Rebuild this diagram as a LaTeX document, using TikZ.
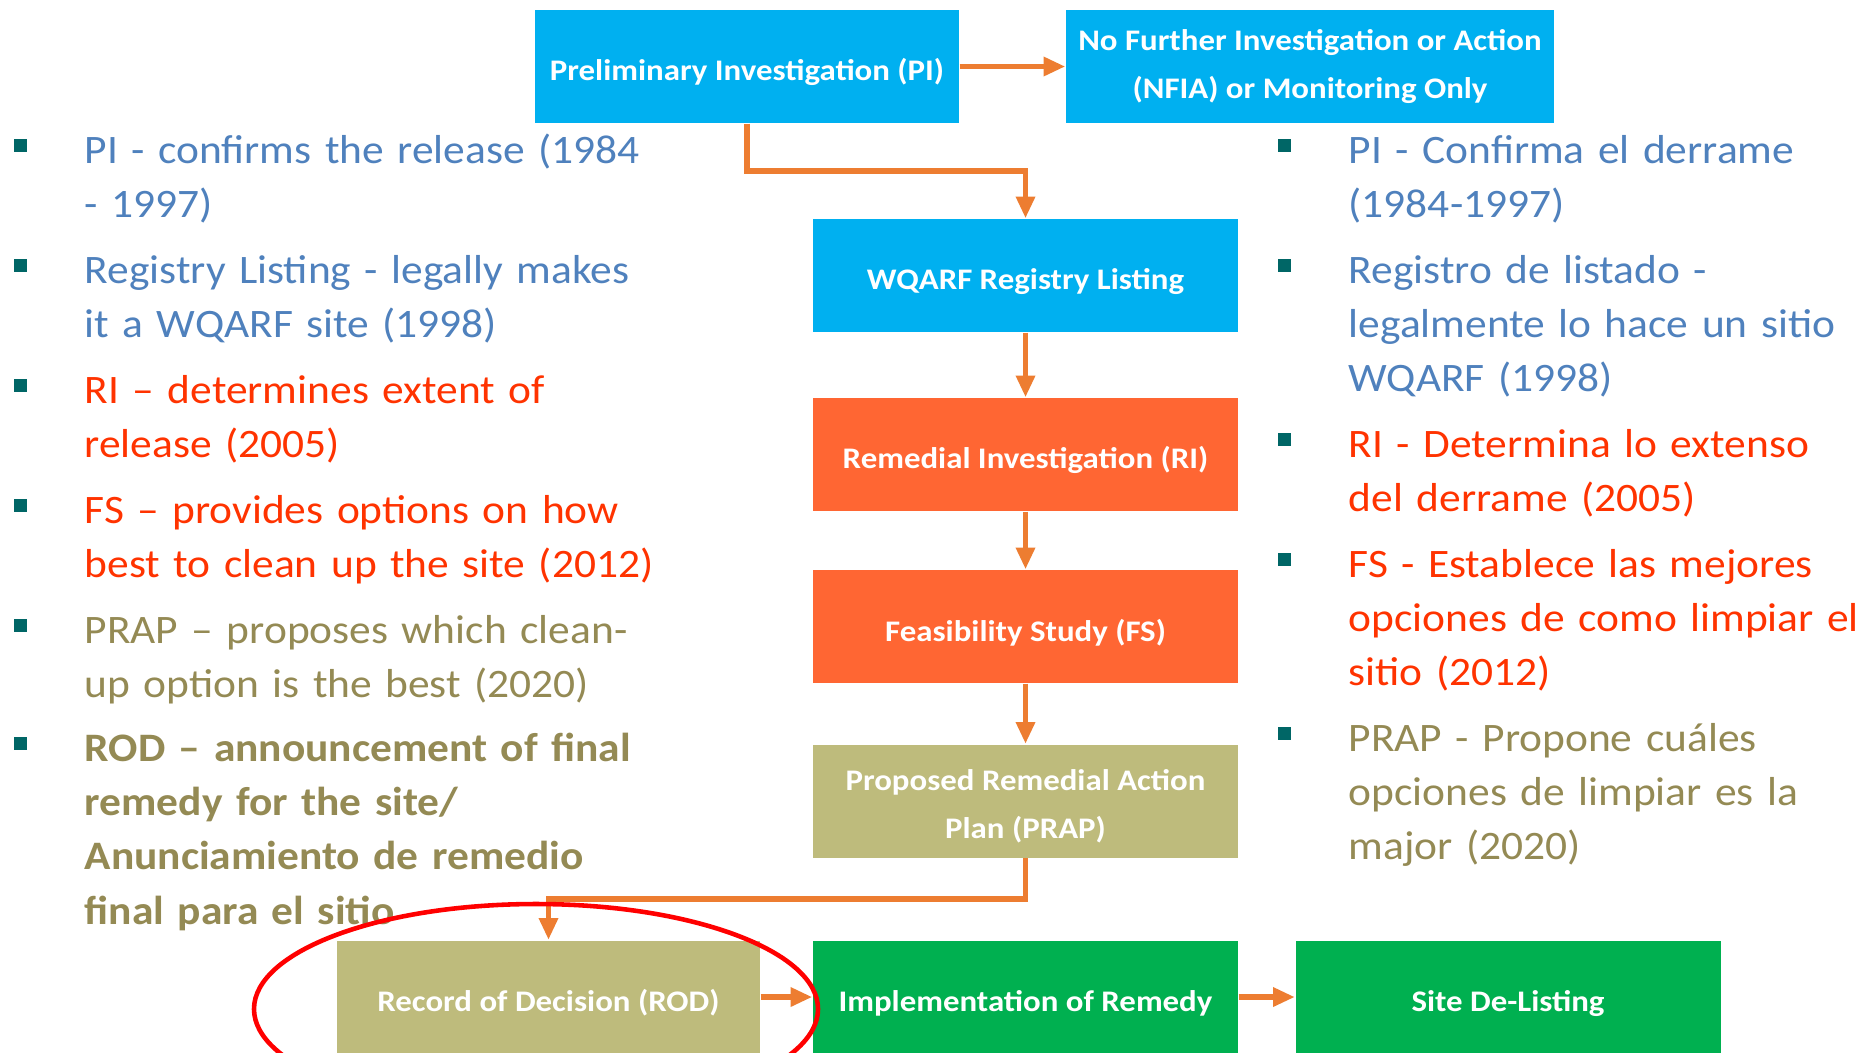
\documentclass[tikz,border=0pt]{standalone}
\usepackage{fontspec}
\setmainfont{Carlito}[FakeStretch=1.075]
\newfontfamily\stagefont{Carlito}[FakeStretch=1.1]
\usepackage{tikz}
\usetikzlibrary{arrows.meta,calc}
\definecolor{boxblue}{RGB}{0,176,240}
\definecolor{boxred}{RGB}{255,102,51}
\definecolor{boxolive}{RGB}{190,187,124}
\definecolor{boxgreen}{RGB}{0,176,80}
\definecolor{flowline}{RGB}{237,125,49}
\definecolor{txtblue}{RGB}{79,129,189}
\definecolor{txtred}{RGB}{255,51,0}
\definecolor{txtolive}{RGB}{148,138,84}
\definecolor{bulletc}{RGB}{0,102,102}
\tikzset{>={Triangle[width=5.2pt,length=6.2pt]}}
\tikzset{
  stage/.style={rectangle, inner sep=0pt, minimum width=42.5mm, minimum height=11.3mm,
    text=white, align=center, font=\stagefont\fontsize{8.5}{13.6}\selectfont\bfseries,
    execute at begin node={\rule{0pt}{3.4mm}}},
  flow/.style={->, draw=flowline, line width=1.55pt},
  note/.style={anchor=base west, inner sep=0pt, text width=62mm, align=left,
    font=\fontsize{11.5}{15.5}\selectfont},
}
\begin{document}
\begin{tikzpicture}[x=0.1mm,y=-0.1mm]
	\useasboundingbox (0,0) rectangle (1873,1052);
	\fill[white] (0,0) rectangle (1873,1052);
	\clip (0,0) rectangle (1873,1052);
	% process boxes
	\node[stage, fill=boxblue, minimum width=42.4mm] (pi) at (747,66.5) {Preliminary Investigation (PI)};
	\node[stage, fill=boxblue, minimum width=48.8mm] (nfia) at (1310,66.5) {No Further Investigation or Action\\(NFIA) or Monitoring Only};
	\node[stage, fill=boxblue] (wqarf) at (1025.5,275.5) {WQARF Registry Listing};
	\node[stage, fill=boxred] (ri) at (1025.5,454.5) {Remedial Investigation (RI)};
	\node[stage, fill=boxred] (fs) at (1025.5,626.5) {Feasibility Study (FS)};
	\node[stage, fill=boxolive] (prap) at (1025.5,801) {\rule{0pt}{3.2mm}Proposed Remedial Action\\Plan (PRAP)};
	\node[stage, fill=boxolive, minimum width=42.3mm] (rod) at (548.5,997) {Record of Decision (ROD)};
	\node[stage, fill=boxgreen] (impl) at (1025.5,997) {Implementation of Remedy};
	\node[stage, fill=boxgreen] (site) at (1508,997) {Site De-Listing};
	% connectors
	\coordinate (jog1) at (747,171);
	\coordinate (jog2) at (1025.5,899);
	\draw[flow] (pi.east) -- (nfia.west);
	\draw[flow] (pi.south) -- (jog1) -| (wqarf.north);
	\draw[flow] (wqarf.south) -- (ri.north);
	\draw[flow] (ri.south) -- (fs.north);
	\draw[flow] (fs.south) -- (prap.north);
	\draw[flow] (prap.south) -- (jog2) -| (rod.north);
	\draw[flow] (rod.east) -- (impl.west);
	\draw[flow] (impl.east) -- (site.west);
	% english notes
	\node[note, text=txtblue] (l1) at (84,163) {PI - confirms the release (1984\\- 1997)};
	\node[note, text=txtblue] (l2) at (84,283) {Registry Listing - legally makes\\it a WQARF site (1998)};
	\node[note, text=txtred] (l3) at (84,403) {RI -- determines extent of\\release (2005)};
	\node[note, text=txtred] (l4) at (84,523) {FS -- provides options on how\\best to clean up the site (2012)};
	\node[note, text=txtolive] (l5) at (84,643) {PRAP -- proposes which clean-\\up option is the best (2020)};
	\node[note, text=txtolive, font=\fontsize{11.5}{15.5}\selectfont\bfseries] (l6) at (84,761) {ROD -- announcement of final\\remedy for the site/\\Anunciamiento de remedio\\final para el sitio};
	% spanish notes
	\node[note, text=txtblue] (r1) at (1348,163) {PI - Confirma el derrame\\(1984-1997)};
	\node[note, text=txtblue] (r2) at (1348,283) {Registro de listado -\\legalmente lo hace un sitio\\WQARF (1998)};
	\node[note, text=txtred] (r3) at (1348,457) {RI - Determina lo extenso\\del derrame (2005)};
	\node[note, text=txtred] (r4) at (1348,577) {FS - Establece las mejores\\opciones de como limpiar el\\sitio (2012)};
	\node[note, text=txtolive] (r5) at (1348,751) {PRAP - Propone cuáles\\opciones de limpiar es la\\major (2020)};
	\foreach \n in {l1,l2,l3,l4,l5,l6,r1,r2,r3,r4,r5}
		\fill[bulletc] ($(\n.base west)+(-70,-11)$) rectangle ++(13,-13);
	% highlight
	\draw[red, line width=1.3pt] (536,1009) ellipse [x radius=282, y radius=105];
\end{tikzpicture}
\end{document}
